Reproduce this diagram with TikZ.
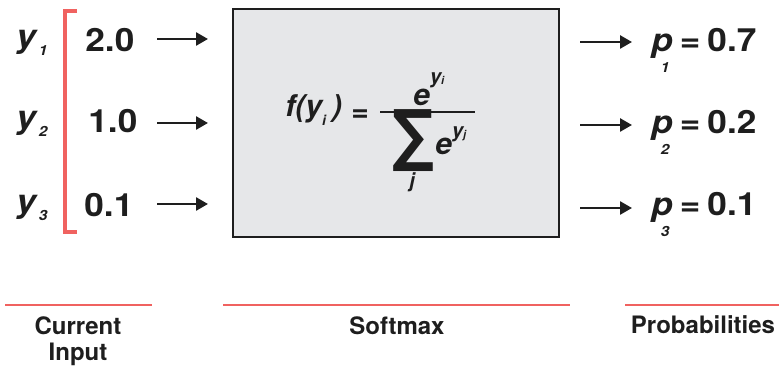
\documentclass[tikz,border=0pt]{standalone}
\usepackage{fontspec}
\setmainfont{TeX Gyre Heros}
\newfontfamily\widefont[FakeStretch=1.1]{TeX Gyre Heros}
\newfontfamily\symfont{DejaVu Sans}
\usetikzlibrary{arrows.meta}
\definecolor{bracketred}{RGB}{240, 98, 96}
\definecolor{boxgray}{RGB}{230, 231, 233}
\definecolor{inkblack}{RGB}{30, 30, 30}

\newcommand{\fsz}[1]{\fontsize{#1}{#1}\selectfont}
\newcommand{\ylabel}[1]{\textbf{\textit{y}}\kern0.5pt\raisebox{-4pt}{\fsz{7}\textbf{\textit{#1}}}}
\newcommand{\plabel}[2]{\textbf{\textit{p}}\rlap{\kern-6pt\raisebox{-10.5pt}{\fsz{7}\textbf{\textit{#1}}}}\kern3.5pt=\kern3.5pt#2}

\tikzset{
  flow/.style={inkblack, line width=1.3pt, -{Triangle[length=6pt, width=6.5pt]}},
  val/.style={inkblack, font=\widefont\fsz{16}\bfseries, inner sep=0pt, anchor=base west},
  eqn/.style={inkblack, font=\fsz{15}\bfseries\itshape, inner sep=0pt, anchor=base west},
  caption/.style={inkblack, font=\fontsize{12}{13}\selectfont\bfseries, inner sep=0pt,
                  anchor=north, align=center},
  rule/.style={bracketred, line width=1pt}
}

\begin{document}
\begin{tikzpicture}[x=0.5pt, y=-0.5pt]
  \useasboundingbox (0,0) rectangle (779,367);

  %% input bracket
  \draw[bracketred, line width=1.6pt] (77,11) -- (65,11) -- (65,232) -- (77,232);

  %% input values
  \node[val] (y1) at (16,48) {\ylabel{1}};
  \node[val] (y2) at (16,129) {\ylabel{2}};
  \node[val] (y3) at (16,213) {\ylabel{3}};
  \node[val] (in1) at (85,52) {2.0};
  \node[val] (in2) at (88,133) {1.0};
  \node[val] (in3) at (84,217) {0.1};

  %% softmax box
  \node[draw=inkblack, fill=boxgray, line width=1pt, inner sep=0pt,
        minimum width=163pt, minimum height=114pt, anchor=north west] (box) at (232,8) {};

  %% arrows into the box
  \coordinate (s1) at (157,39);
  \coordinate (s2) at (157,123);
  \coordinate (s3) at (157,204);
  \foreach \i in {1,2,3}
    \draw[flow, shorten >=12pt] (s\i) -- (s\i -| box.west);

  %% formula
  \node[eqn] (fy) at (285,117) {f(y\raisebox{-4.5pt}{\fsz{7}i}\kern3pt)};
  \node[eqn, font=\fsz{15}\bfseries] (eq) at (351,122) {=};
  \node[eqn] (num) at (413,106)
    {e\raisebox{11pt}{\fsz{10}y\raisebox{-0.5pt}{\fsz{5.5}i}}};
  \draw[inkblack, line width=0.7pt] (380,112) -- (475,112);
  \node[inkblack, inner sep=0pt, font=\symfont\fsz{34}\bfseries] (sum) at (413,140.5)
    {\scalebox{0.86}[1]{∑}};
  \node[eqn, font=\fsz{10}\bfseries\itshape] (j) at (409,188) {j};
  \node[eqn] (den) at (435,155)
    {e\raisebox{8.5pt}{\fsz{10}y\raisebox{-0.5pt}{\fsz{5.5}j}}};

  %% outputs
  \coordinate (t1) at (632,42);
  \coordinate (t2) at (632,125);
  \coordinate (t3) at (632,208);
  \foreach \i in {1,2,3}
    \draw[flow, shorten <=10pt] (box.east |- t\i) -- (t\i);
  \node[val] (p1) at (651,52) {\plabel{1}{0.7}};
  \node[val] (p2) at (651,134) {\plabel{2}{0.2}};
  \node[val] (p3) at (651,216) {\plabel{3}{0.1}};

  %% captions
  \draw[rule] (5,305) -- (152,305);
  \draw[rule] (223,305) -- (570,305);
  \draw[rule] (625,305) -- (779,305);
  \node[caption] (cin) at (78,316) {Current\\Input};
  \node[caption] (csoft) at (397,316) {Softmax};
  \node[caption] (cprob) at (703,315) {Probabilities};
\end{tikzpicture}
\end{document}
